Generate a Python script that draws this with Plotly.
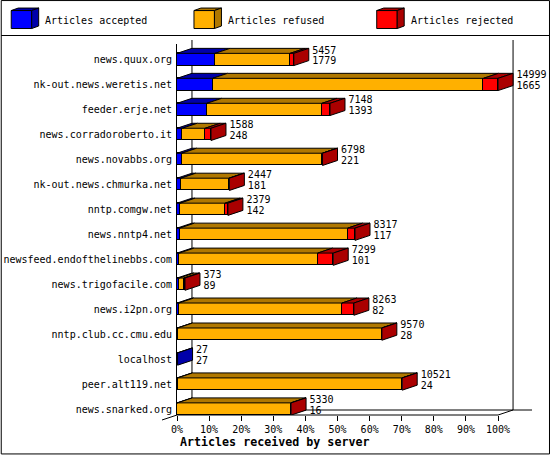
import plotly.graph_objects as go

servers = [
    "news.quux.org", "nk-out.news.weretis.net", "feeder.erje.net",
    "news.corradoroberto.it", "news.novabbs.org", "nk-out.news.chmurka.net",
    "nntp.comgw.net", "news.nntp4.net", "newsfeed.endofthelinebbs.com",
    "news.trigofacile.com", "news.i2pn.org", "nntp.club.cc.cmu.edu",
    "localhost", "peer.alt119.net", "news.snarked.org",
]
accepted = [1779, 1665, 1393, 248, 221, 181, 142, 117, 101, 89, 82, 28, 27, 24, 16]
refused = [3502, 12650, 5381, 1067, 6567, 2246, 2107, 7853, 6469, 231, 7625, 9537, 0, 10492, 5309]
rejected = [176, 684, 374, 273, 10, 20, 130, 347, 729, 53, 556, 5, 0, 5, 5]
series_names = ["Articles accepted", "Articles refused", "Articles rejected"]
percent_ticks = list(range(0, 101, 10))

totals = [a + b + c for a, b, c in zip(accepted, refused, rejected)]
max_total = max(totals)

W, H = 550, 455
X0, X100 = 176.5, 498.0
X_RIGHT = 549.0  # plot area runs past 100% so the depth faces are not clipped
Y_TOP, Y_BOT = 44.0, 415.5
ROW_H = 25.0
Y_FIRST = 59.5
DEPTH_X, DEPTH_Y = 15.0, 5.0

FONT = "DejaVu Sans Mono"
front = ["#0000ff", "#ffb000", "#ff0000"]
dark = ["#0000aa", "#b07800", "#aa0000"]

x_per_px = 100.0 / (X100 - X0)
dx = DEPTH_X * x_per_px
dy = -DEPTH_Y / ROW_H
x_range = [0, (X_RIGHT - X0) * x_per_px]
y_range = [(Y_BOT - Y_FIRST) / ROW_H, (Y_TOP - Y_FIRST) / ROW_H]


def pct(v):
    return v * 100.0 / max_total


def paper_x(x):
    return (x - X0) / (X_RIGHT - X0)


def paper_y(y):
    return (Y_BOT - y) / (Y_BOT - Y_TOP)


def line(x0, y0, x1, y1):
    return dict(type="line", xref="paper", yref="paper", layer="below",
                x0=paper_x(x0), y0=paper_y(y0), x1=paper_x(x1), y1=paper_y(y1),
                line=dict(color="black", width=1))


def poly(points, fill):
    path = "M " + " L ".join(f"{paper_x(a)},{paper_y(b)}" for a, b in points) + " Z"
    return dict(type="path", xref="paper", yref="paper", path=path, fillcolor=fill,
                line=dict(color="black", width=1))


fig = go.Figure()

rows = list(range(len(servers)))
for name, values, color in zip(series_names, [accepted, refused, rejected], front):
    fig.add_trace(go.Bar(
        y=rows, x=[pct(v) for v in values], orientation="h", name=name, width=0.49,
        marker=dict(color=color, line=dict(color="black", width=1)), cliponaxis=False,
    ))

# top faces, per series
stacks = list(zip(accepted, refused, rejected))
for s in range(3):
    xs, ys = [], []
    for i, row in enumerate(stacks):
        if row[s] == 0:
            continue
        a = pct(sum(row[:s]))
        b = pct(sum(row[:s + 1]))
        top = i - 0.245
        xs += [a, b, b + dx, a + dx, a, None]
        ys += [top, top, top + dy, top + dy, top, None]
    fig.add_trace(go.Scatter(x=xs, y=ys, mode="lines", fill="toself", fillcolor=dark[s],
                             line=dict(color="black", width=1), cliponaxis=False))

# right side face takes the colour of the last non empty segment
for s in range(3):
    xs, ys = [], []
    for i, row in enumerate(stacks):
        last = max(k for k in range(3) if row[k] > 0)
        if last != s:
            continue
        b = pct(sum(row))
        top, bottom = i - 0.245, i + 0.245
        xs += [b, b + dx, b + dx, b, b, None]
        ys += [top, top + dy, bottom + dy, bottom, top, None]
    fig.add_trace(go.Scatter(x=xs, y=ys, mode="lines", fill="toself", fillcolor=dark[s],
                             line=dict(color="black", width=1), cliponaxis=False))

# two value labels behind each bar
label_x = [pct(t) + dx + 3.5 * x_per_px for t in totals]
fig.add_trace(go.Scatter(x=label_x, y=[i - 8.5 / ROW_H for i in rows], mode="text",
                         text=[str(t) for t in totals], textposition="middle right",
                         textfont=dict(family=FONT, size=10, color="black"), cliponaxis=False))
fig.add_trace(go.Scatter(x=label_x, y=[i + 2.5 / ROW_H for i in rows], mode="text",
                         text=[str(a) for a in accepted], textposition="middle right",
                         textfont=dict(family=FONT, size=10, color="black"), cliponaxis=False))

shapes = [
    dict(type="rect", xref="paper", yref="paper", layer="below",
         x0=paper_x(0.5), y0=paper_y(0.5), x1=paper_x(W - 0.5), y1=paper_y(H - 0.5),
         line=dict(color="black", width=1)),
    line(0.5, 35.5, W - 0.5, 35.5),
    line(X0 + DEPTH_X, 40, X0 + DEPTH_X, Y_BOT - DEPTH_Y),
    line(X100 + DEPTH_X, 40, X100 + DEPTH_X, Y_BOT - DEPTH_Y),
    line(X0 + DEPTH_X, Y_BOT - DEPTH_Y, 532, Y_BOT - DEPTH_Y),
    line(X100, Y_BOT, X100 + DEPTH_X, Y_BOT - DEPTH_Y),
    line(X0 - DEPTH_X, Y_BOT + DEPTH_Y, X0, Y_BOT),
    line(X0, Y_BOT, X100, Y_BOT),
]

annotations = [dict(
    text="Articles received by server", xref="paper", yref="paper",
    x=paper_x(177.5), y=paper_y(442.5), xanchor="left", yanchor="middle", showarrow=False,
    font=dict(family=FONT, size=11.67, color="black", weight="bold"),
)]

# legend: little cubes and labels
for name, x_box, x_text, c_front, c_dark in zip(series_names, [10.5, 193.5, 376.5],
                                                [42.5, 225.5, 408.5], front, dark):
    xa, xb = x_box, x_box + 20.5
    ya, yb = 10.5, 28.5
    sx, sy = 7, 2.5
    shapes.append(poly([(xa, ya), (xb, ya), (xb, yb), (xa, yb)], c_front))
    shapes.append(poly([(xa, ya), (xa + sx, ya - sy), (xb + sx, ya - sy), (xb, ya)], c_dark))
    shapes.append(poly([(xb, ya), (xb + sx, ya - sy), (xb + sx, yb - sy), (xb, yb)], c_dark))
    annotations.append(dict(
        text=name, xref="paper", yref="paper", x=paper_x(x_text), y=paper_y(20),
        xanchor="left", yanchor="middle", showarrow=False,
        font=dict(family=FONT, size=10, color="black"),
    ))

fig.update_layout(
    width=W, height=H,
    margin=dict(l=X0, r=W - X_RIGHT, t=Y_TOP, b=H - Y_BOT, pad=0, autoexpand=False),
    paper_bgcolor="white", plot_bgcolor="rgba(0,0,0,0)",
    barmode="stack", bargap=0, showlegend=False, hovermode=False,
    shapes=shapes, annotations=annotations,
    font=dict(family=FONT, size=10, color="black"),
)
fig.update_xaxes(
    range=x_range, tickvals=percent_ticks, ticktext=[f"{p}%" for p in percent_ticks],
    showgrid=False, zeroline=False, showline=False,
    ticks="outside", ticklen=5, tickcolor="black", tickwidth=1, tickangle=0,
)
fig.update_yaxes(
    range=y_range, tickvals=rows, ticktext=servers,
    showgrid=False, zeroline=False, showline=True, linecolor="black", linewidth=1,
    ticks="", ticklabelstandoff=2,
)

fig.write_html("out.html", config=dict(displayModeBar=False),
               post_script="document.body.style.margin='0';document.body.style.overflow='hidden';")
